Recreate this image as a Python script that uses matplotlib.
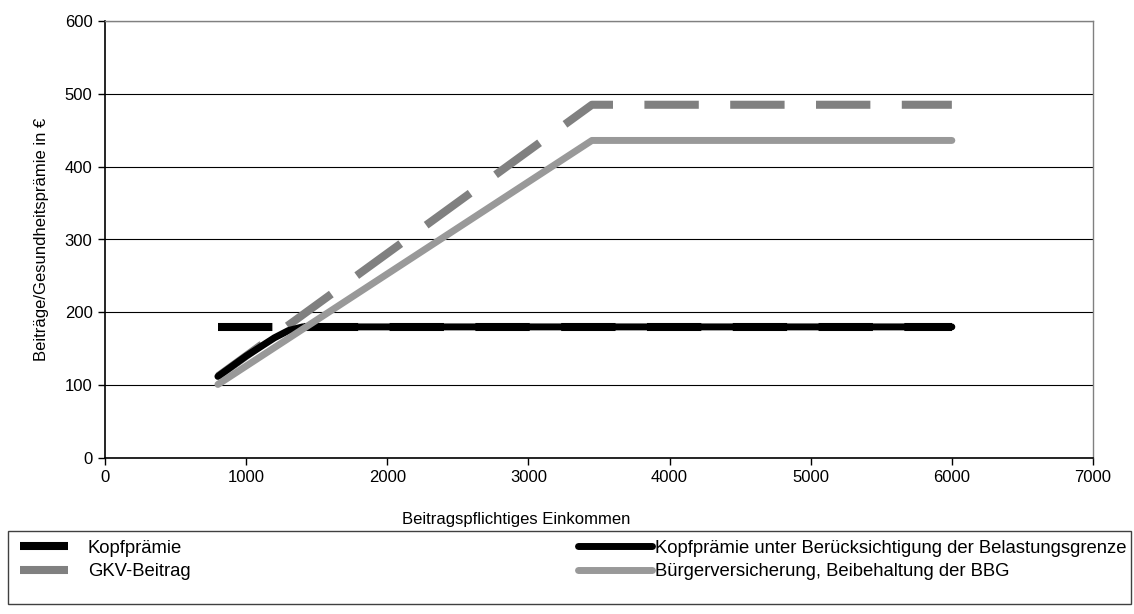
import numpy as np
import matplotlib.pyplot as plt
from matplotlib.lines import Line2D
from matplotlib.patches import Rectangle

plt.rcParams['font.family'] = ['Liberation Sans', 'DejaVu Sans']

# income in EUR
kopf_x = [800, 6000]
kopf_y = [180, 180]

gkv_x = [800, 3450, 6000]
gkv_y = [112, 485, 485]

bv_x = [800, 3450, 6000]
bv_y = [101, 436, 436]

belast_x = [800, 1000, 1200, 1300, 1400, 6000]
belast_y = [112, 140, 165, 175, 180, 180]

labels = ["Kopfprämie", "GKV-Beitrag",
          "Kopfprämie unter Berücksichtigung der Belastungsgrenze",
          "Bürgerversicherung, Beibehaltung der BBG"]

FS = 12.0
FS_LEG = 13.3
W, H = 1134, 614
fig = plt.figure(figsize=(W / 100, H / 100), dpi=100)
ax = fig.add_axes([105 / W, 1 - 458 / H, (1093 - 105) / W, (458 - 21) / H])

lw_thick = 5.8  # ~8 px
l_kopf, = ax.plot(kopf_x, kopf_y, color='black', lw=lw_thick, solid_capstyle='butt',
                  dash_capstyle='butt')
l_kopf.set_dashes([6.75, 3.9])
l_gkv, = ax.plot(gkv_x, gkv_y, color='#808080', lw=lw_thick, dash_capstyle='butt',
                 solid_capstyle='butt')
l_gkv.set_dashes([6.75, 3.9])
l_belast, = ax.plot(belast_x, belast_y, color='black', lw=5.0, solid_capstyle='round',
                    solid_joinstyle='round')
l_bv, = ax.plot(bv_x, bv_y, color='#999999', lw=5.0, solid_capstyle='round',
                solid_joinstyle='round')

ax.set_xlim(0, 7000)
ax.set_ylim(0, 600)
ax.set_xticks(range(0, 7001, 1000))
ax.set_yticks(range(0, 601, 100))
ax.yaxis.grid(True, color='black', lw=0.8)
ax.set_axisbelow(True)
ax.tick_params(labelsize=FS, direction='out', length=5, width=1, pad=4)
for s in ['left', 'bottom']:
    ax.spines[s].set_color('black')
    ax.spines[s].set_linewidth(1.2)
for s in ['top', 'right']:
    ax.spines[s].set_color('#808080')
    ax.spines[s].set_linewidth(1.0)

ax.set_xlabel("Beitragspflichtiges Einkommen", fontsize=FS)
ax.xaxis.set_label_coords((516 - 105) / (1093 - 105), -(512 - 458) / (458 - 21))
ax.set_ylabel("Beiträge/Gesundheitsprämie in €", fontsize=FS)
ax.yaxis.set_label_coords(-(105 - 49) / (1093 - 105), 0.5)

# legend frame
fig.patches.append(Rectangle((8 / W, 1 - 604 / H), 1123 / W, 73 / H,
                             transform=fig.transFigure, fill=False,
                             edgecolor='#404040', lw=1.0))

h1 = [Line2D([], [], color='black', lw=lw_thick, solid_capstyle='butt'),
      Line2D([], [], color='#808080', lw=lw_thick, solid_capstyle='butt')]
h2 = [Line2D([], [], color='black', lw=5.0, solid_capstyle='round'),
      Line2D([], [], color='#999999', lw=5.0, solid_capstyle='round')]

leg1 = fig.legend(h1, labels[:2], loc='center left', bbox_to_anchor=(20 / W, 1 - 560 / H),
                  frameon=False, fontsize=FS_LEG, borderpad=0, borderaxespad=0,
                  handlelength=2.6, handletextpad=1.08, labelspacing=0.36)
leg2 = fig.legend(h2, labels[2:], loc='center left', bbox_to_anchor=(578 / W, 1 - 560 / H),
                  frameon=False, fontsize=FS_LEG, borderpad=0, borderaxespad=0,
                  handlelength=4.0, handletextpad=0.15, labelspacing=0.36)

fig.savefig("out.png", dpi=100)
